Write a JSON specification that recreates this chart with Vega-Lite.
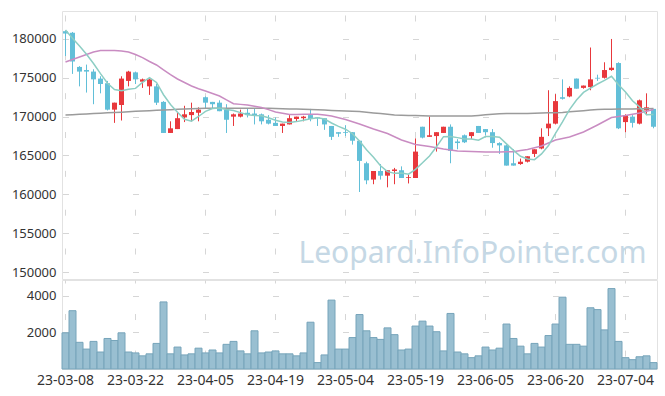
{
  "$schema": "https://vega.github.io/schema/vega-lite/v6.json",
  "background": "white",
  "padding": {"left": 5, "top": 10, "right": 4, "bottom": 4},
  "config": {
    "view": {"stroke": "#e2e2e2"},
    "font": "Noto Sans",
    "axis": {"labelFont": "Noto Sans", "labelFontSize": 13, "labelColor": "#333333", "gridColor": "#d6d6d6", "gridWidth": 1}
  },
  "data": {"values": [
    {"d":"23-03-08","o":181000,"h":181100,"l":177800,"c":180700,"v":1980,"m5":181160,"m20":177040,"mg":170210},
    {"d":"23-03-09","o":180800,"h":180900,"l":175500,"c":177100,"v":3190,"m5":180090,"m20":177360,"mg":170260},
    {"d":"23-03-10","o":176400,"h":176500,"l":173900,"c":175800,"v":1460,"m5":179100,"m20":177680,"mg":170300},
    {"d":"23-03-13","o":176000,"h":176700,"l":173100,"c":175800,"v":1090,"m5":178030,"m20":178000,"mg":170350},
    {"d":"23-03-14","o":175800,"h":176100,"l":171600,"c":174800,"v":1510,"m5":176840,"m20":178330,"mg":170400},
    {"d":"23-03-15","o":174900,"h":175200,"l":173000,"c":174200,"v":930,"m5":175540,"m20":178520,"mg":170440},
    {"d":"23-03-16","o":174300,"h":174600,"l":170800,"c":170900,"v":1670,"m5":174300,"m20":178520,"mg":170490},
    {"d":"23-03-17","o":170900,"h":171800,"l":169200,"c":171800,"v":1560,"m5":173500,"m20":178520,"mg":170540},
    {"d":"23-03-20","o":171500,"h":175200,"l":169500,"c":174900,"v":1980,"m5":173320,"m20":178450,"mg":170580},
    {"d":"23-03-21","o":174600,"h":175900,"l":173900,"c":175800,"v":930,"m5":173520,"m20":178330,"mg":170630},
    {"d":"23-03-22","o":175700,"h":175800,"l":174200,"c":174800,"v":880,"m5":173640,"m20":178000,"mg":170680},
    {"d":"23-03-23","o":174500,"h":174900,"l":173700,"c":174800,"v":720,"m5":174420,"m20":177590,"mg":170720},
    {"d":"23-03-24","o":173900,"h":174900,"l":172800,"c":174800,"v":830,"m5":175020,"m20":177100,"mg":170770},
    {"d":"23-03-27","o":173900,"h":174200,"l":171500,"c":171800,"v":1400,"m5":174400,"m20":176650,"mg":170810},
    {"d":"23-03-28","o":171900,"h":172000,"l":167900,"c":167900,"v":3670,"m5":172820,"m20":176010,"mg":170860},
    {"d":"23-03-29","o":167900,"h":169400,"l":167900,"c":168500,"v":830,"m5":171560,"m20":175400,"mg":170900},
    {"d":"23-03-30","o":168400,"h":170500,"l":168400,"c":169800,"v":1200,"m5":170560,"m20":174850,"mg":170940},
    {"d":"23-03-31","o":169900,"h":171400,"l":169300,"c":170300,"v":770,"m5":169660,"m20":174400,"mg":170980},
    {"d":"23-04-03","o":170200,"h":171800,"l":169400,"c":170600,"v":830,"m5":169420,"m20":173950,"mg":171010},
    {"d":"23-04-04","o":170500,"h":171200,"l":169400,"c":170900,"v":1140,"m5":170020,"m20":173600,"mg":171050},
    {"d":"23-04-05","o":172500,"h":172600,"l":171000,"c":171800,"v":880,"m5":170680,"m20":173300,"mg":171080},
    {"d":"23-04-06","o":171900,"h":171900,"l":171000,"c":171600,"v":1040,"m5":171040,"m20":172980,"mg":171080},
    {"d":"23-04-07","o":171800,"h":172100,"l":170700,"c":170700,"v":880,"m5":171120,"m20":172660,"mg":171080},
    {"d":"23-04-10","o":170900,"h":171600,"l":167900,"c":169600,"v":1350,"m5":170920,"m20":172150,"mg":171080},
    {"d":"23-04-11","o":170000,"h":170400,"l":168800,"c":170300,"v":1510,"m5":170800,"m20":171670,"mg":171080},
    {"d":"23-04-12","o":170000,"h":170900,"l":169900,"c":170400,"v":990,"m5":170520,"m20":171580,"mg":171080},
    {"d":"23-04-13","o":170500,"h":171100,"l":169900,"c":170200,"v":830,"m5":170240,"m20":171500,"mg":171080},
    {"d":"23-04-14","o":170400,"h":171100,"l":169000,"c":170200,"v":2090,"m5":170140,"m20":171340,"mg":171080},
    {"d":"23-04-17","o":170300,"h":170400,"l":169000,"c":169400,"v":880,"m5":170100,"m20":171180,"mg":171080},
    {"d":"23-04-18","o":169600,"h":170200,"l":169000,"c":169100,"v":930,"m5":169860,"m20":170900,"mg":171080},
    {"d":"23-04-19","o":169200,"h":169900,"l":168800,"c":168800,"v":990,"m5":169540,"m20":170600,"mg":171050},
    {"d":"23-04-20","o":168800,"h":169100,"l":167900,"c":169100,"v":830,"m5":169320,"m20":170440,"mg":171030},
    {"d":"23-04-21","o":169000,"h":170200,"l":169000,"c":169800,"v":830,"m5":169240,"m20":170280,"mg":171000},
    {"d":"23-04-24","o":169700,"h":170000,"l":169400,"c":170000,"v":720,"m5":169360,"m20":170290,"mg":170980},
    {"d":"23-04-25","o":169800,"h":170100,"l":169400,"c":170000,"v":880,"m5":169540,"m20":170300,"mg":170950},
    {"d":"23-04-26","o":170200,"h":171000,"l":169400,"c":169700,"v":2560,"m5":169720,"m20":170300,"mg":170910},
    {"d":"23-04-27","o":169900,"h":169900,"l":168800,"c":169800,"v":350,"m5":169860,"m20":170300,"mg":170880},
    {"d":"23-04-28","o":169800,"h":169800,"l":168300,"c":169000,"v":770,"m5":169700,"m20":170200,"mg":170840},
    {"d":"23-05-02","o":168800,"h":168800,"l":167000,"c":167400,"v":3770,"m5":169180,"m20":170090,"mg":170800},
    {"d":"23-05-03","o":168000,"h":168000,"l":167400,"c":167800,"v":1090,"m5":168740,"m20":169860,"mg":170770},
    {"d":"23-05-04","o":168000,"h":168900,"l":167500,"c":167900,"v":1090,"m5":168380,"m20":169640,"mg":170730},
    {"d":"23-05-08","o":168000,"h":168000,"l":166400,"c":166900,"v":1720,"m5":167800,"m20":169350,"mg":170700},
    {"d":"23-05-09","o":166900,"h":166900,"l":160300,"c":164300,"v":2980,"m5":166860,"m20":169060,"mg":170660},
    {"d":"23-05-10","o":164000,"h":164200,"l":161300,"c":161800,"v":2090,"m5":165740,"m20":168730,"mg":170570},
    {"d":"23-05-11","o":161900,"h":163000,"l":161300,"c":163000,"v":1720,"m5":164780,"m20":168410,"mg":170480},
    {"d":"23-05-12","o":163000,"h":163900,"l":161900,"c":162400,"v":1620,"m5":163680,"m20":168120,"mg":170390},
    {"d":"23-05-15","o":162400,"h":163100,"l":160900,"c":163100,"v":2250,"m5":162920,"m20":167830,"mg":170300},
    {"d":"23-05-16","o":163000,"h":163400,"l":161300,"c":163200,"v":1880,"m5":162700,"m20":167410,"mg":170210},
    {"d":"23-05-17","o":163100,"h":163600,"l":162100,"c":162100,"v":1040,"m5":162760,"m20":167000,"mg":170190},
    {"d":"23-05-18","o":162100,"h":162500,"l":161400,"c":162200,"v":1090,"m5":162600,"m20":166700,"mg":170160},
    {"d":"23-05-19","o":162100,"h":167200,"l":162100,"c":165500,"v":2350,"m5":163220,"m20":166420,"mg":170140},
    {"d":"23-05-22","o":168700,"h":168700,"l":167200,"c":167300,"v":2620,"m5":164060,"m20":166290,"mg":170110},
    {"d":"23-05-23","o":167400,"h":170000,"l":167400,"c":167600,"v":2350,"m5":164940,"m20":166160,"mg":170090},
    {"d":"23-05-24","o":167500,"h":168000,"l":165500,"c":168000,"v":2040,"m5":166120,"m20":166000,"mg":170090},
    {"d":"23-05-25","o":167900,"h":168700,"l":167900,"c":168700,"v":990,"m5":167420,"m20":165840,"mg":170090},
    {"d":"23-05-26","o":168700,"h":169000,"l":164000,"c":165600,"v":3040,"m5":167440,"m20":165710,"mg":170090},
    {"d":"23-05-30","o":166800,"h":167100,"l":165800,"c":166600,"v":930,"m5":167300,"m20":165580,"mg":170090},
    {"d":"23-05-31","o":167600,"h":167700,"l":166600,"c":166700,"v":830,"m5":167120,"m20":165540,"mg":170090},
    {"d":"23-06-01","o":167500,"h":168000,"l":167100,"c":168000,"v":620,"m5":167120,"m20":165510,"mg":170090},
    {"d":"23-06-02","o":168800,"h":168800,"l":167900,"c":167900,"v":720,"m5":166960,"m20":165480,"mg":170160},
    {"d":"23-06-05","o":168400,"h":168400,"l":167600,"c":168000,"v":1200,"m5":167440,"m20":165450,"mg":170230},
    {"d":"23-06-07","o":168000,"h":168400,"l":166000,"c":166600,"v":1040,"m5":167440,"m20":165450,"mg":170310},
    {"d":"23-06-08","o":166600,"h":166700,"l":165200,"c":166300,"v":1140,"m5":167360,"m20":165450,"mg":170380},
    {"d":"23-06-09","o":166300,"h":166400,"l":163700,"c":163700,"v":2460,"m5":166500,"m20":165470,"mg":170390},
    {"d":"23-06-12","o":164000,"h":165800,"l":163700,"c":163700,"v":1670,"m5":165660,"m20":165490,"mg":170390},
    {"d":"23-06-13","o":163900,"h":164600,"l":163800,"c":164200,"v":1250,"m5":164900,"m20":165630,"mg":170400},
    {"d":"23-06-14","o":164200,"h":164900,"l":164100,"c":164900,"v":830,"m5":164560,"m20":165770,"mg":170410},
    {"d":"23-06-15","o":165200,"h":165800,"l":164800,"c":165800,"v":1400,"m5":164460,"m20":166000,"mg":170440},
    {"d":"23-06-16","o":165900,"h":168500,"l":165800,"c":167400,"v":1200,"m5":165200,"m20":166220,"mg":170460},
    {"d":"23-06-19","o":168500,"h":173400,"l":167500,"c":169100,"v":1830,"m5":166280,"m20":166600,"mg":170490},
    {"d":"23-06-20","o":169100,"h":172900,"l":169000,"c":172000,"v":2460,"m5":167840,"m20":167000,"mg":170510},
    {"d":"23-06-21","o":172500,"h":174800,"l":172200,"c":172300,"v":3930,"m5":169320,"m20":167200,"mg":170540},
    {"d":"23-06-22","o":172600,"h":173900,"l":172500,"c":173700,"v":1350,"m5":170900,"m20":167380,"mg":170620},
    {"d":"23-06-23","o":174900,"h":174900,"l":173600,"c":173600,"v":1350,"m5":172140,"m20":167700,"mg":170690},
    {"d":"23-06-26","o":173700,"h":174000,"l":173600,"c":174000,"v":1250,"m5":173120,"m20":168020,"mg":170770},
    {"d":"23-06-27","o":173800,"h":178900,"l":173400,"c":174800,"v":3350,"m5":173680,"m20":168470,"mg":170840},
    {"d":"23-06-28","o":175000,"h":175400,"l":174600,"c":174900,"v":3250,"m5":174200,"m20":168930,"mg":170920},
    {"d":"23-06-29","o":175000,"h":177000,"l":174900,"c":176000,"v":2140,"m5":174660,"m20":169410,"mg":170940},
    {"d":"23-06-30","o":176000,"h":180000,"l":175900,"c":176300,"v":4400,"m5":175200,"m20":169890,"mg":170950},
    {"d":"23-07-03","o":176900,"h":177000,"l":168400,"c":168500,"v":1510,"m5":174100,"m20":170020,"mg":170970},
    {"d":"23-07-04","o":169300,"h":170300,"l":168000,"c":170200,"v":620,"m5":173180,"m20":170150,"mg":170990},
    {"d":"23-07-05","o":170000,"h":170200,"l":168600,"c":169200,"v":510,"m5":172040,"m20":170310,"mg":171000},
    {"d":"23-07-06","o":169100,"h":172200,"l":169000,"c":172100,"v":670,"m5":171260,"m20":170470,"mg":171020},
    {"d":"23-07-07","o":170800,"h":173000,"l":170200,"c":171200,"v":720,"m5":170240,"m20":170700,"mg":171030},
    {"d":"23-07-10","o":171000,"h":171000,"l":168500,"c":168700,"v":350,"m5":170280,"m20":170920,"mg":171050}
  ]},
  "spacing": -5,
  "vconcat": [
    {
      "width": 595,
      "height": 268,
      "encoding": {
        "x": {"field": "d", "type": "ordinal", "sort": null,
          "scale": {"paddingInner": 0, "paddingOuter": 0},
          "axis": {"title": null, "labels": false, "ticks": false, "domain": false, "grid": true,
            "values": ["23-03-08","23-03-22","23-04-05","23-04-19","23-05-04","23-05-19","23-06-05","23-06-20","23-07-04"],
            "bandPosition": 0.5, "gridDash": [6, 32.84], "gridDashOffset": 34.85, "minExtent": 0, "maxExtent": 0}}
      },
      "layer": [
        {
          "mark": {"type": "rule", "strokeWidth": 1},
          "encoding": {
            "y": {"field": "h", "type": "quantitative",
              "scale": {"domain": [149100, 183600], "nice": false, "zero": false},
              "axis": {"title": null, "values": [150000,155000,160000,165000,170000,175000,180000], "format": "d",
                "ticks": false, "domain": false, "labelPadding": 6, "minExtent": 56, "maxExtent": 56,
                "grid": true, "gridDash": [6, 64], "gridDashOffset": 69.5}},
            "y2": {"field": "l"},
            "color": {"condition": {"test": "datum.c > datum.o", "value": "#e8383c"}, "value": "#62bfd8"}
          }
        },
        {
          "mark": {"type": "bar", "size": 5},
          "encoding": {
            "y": {"field": "o", "type": "quantitative"},
            "y2": {"field": "c"},
            "color": {"condition": {"test": "datum.c > datum.o", "value": "#e8383c"}, "value": "#62bfd8"}
          }
        },
        {
          "mark": {"type": "line", "color": "#9b9b9b", "strokeWidth": 1.5},
          "encoding": {"y": {"field": "mg", "type": "quantitative"}}
        },
        {
          "mark": {"type": "line", "color": "#c98cc2", "strokeWidth": 1.5},
          "encoding": {"y": {"field": "m20", "type": "quantitative"}}
        },
        {
          "mark": {"type": "line", "color": "#8dcec4", "strokeWidth": 1.5},
          "encoding": {"y": {"field": "m5", "type": "quantitative"}}
        },
        {
          "data": {"values": [{}]},
          "mark": {"type": "text", "text": "Leopard.InfoPointer.com", "align": "right", "baseline": "alphabetic", "fontSize": 30, "font": "Noto Sans", "color": "#c5d8e5"},
          "encoding": {
            "x": {"datum": "23-07-07", "type": "ordinal"},
            "y": {"datum": 151160, "type": "quantitative"}
          }
        }
      ]
    },
    {
      "width": 595,
      "height": 89,
      "mark": {"type": "bar", "color": "#99bfd1", "stroke": "#76a4ba", "strokeWidth": 1},
      "encoding": {
        "x": {"field": "d", "type": "ordinal", "sort": null,
          "scale": {"paddingInner": 0, "paddingOuter": 0},
          "axis": {"title": null, "labelAngle": 0, "ticks": false, "domain": false, "labelPadding": 4, "labelFontSize": 14,
            "values": ["23-03-08","23-03-22","23-04-05","23-04-19","23-05-04","23-05-19","23-06-05","23-06-20","23-07-04"],
            "bandPosition": 0.5, "grid": true, "gridDash": [6, 30.55], "gridDashOffset": 3.0}},
        "y": {"field": "v", "type": "quantitative",
          "scale": {"domain": [0, 4870], "nice": false},
          "axis": {"title": null, "values": [2000, 4000], "format": "d", "ticks": false, "domain": false,
            "labelPadding": 6, "minExtent": 56, "maxExtent": 56,
            "grid": true, "gridDash": [6, 64], "gridDashOffset": 69.5}}
      }
    }
  ]
}
